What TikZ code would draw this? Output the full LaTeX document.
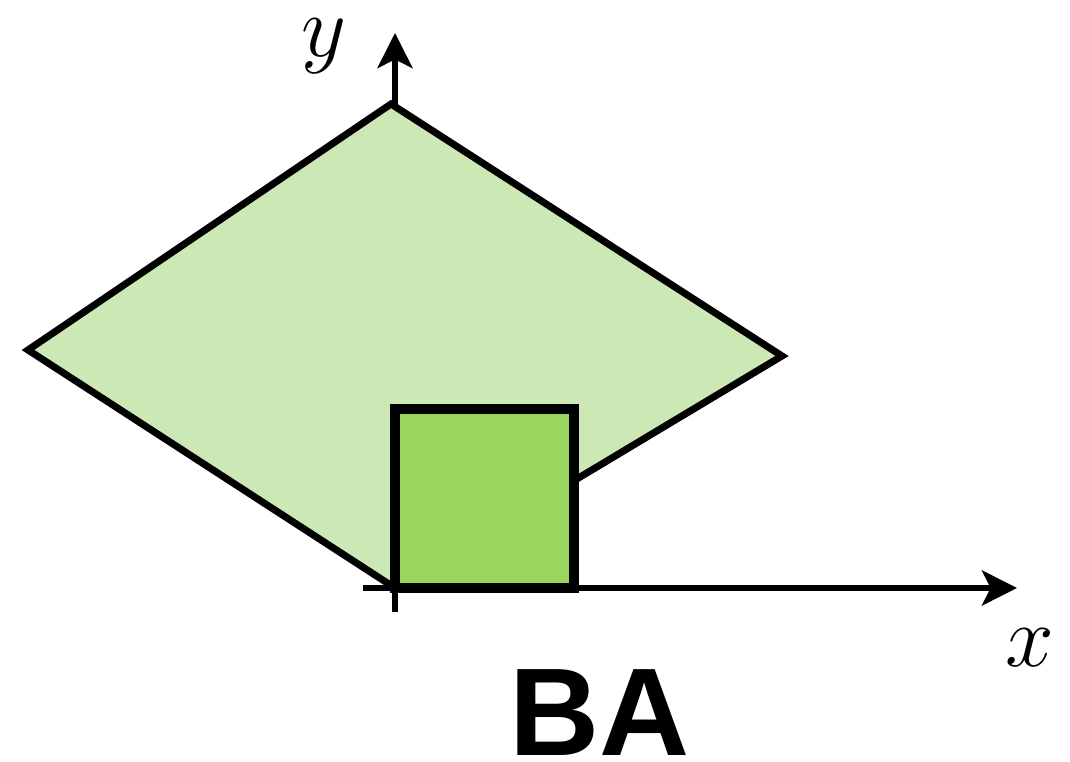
\documentclass[tikz,border=0pt]{standalone}
\usepackage{fontspec}
\newfontfamily\labelfont{Liberation Sans}
\usetikzlibrary{arrows.meta}
\definecolor{lightgreen}{RGB}{204,232,181}
\definecolor{darkgreen}{RGB}{154,214,95}
\begin{document}
\begin{tikzpicture}[x=0.01cm,y=-0.01cm,>={Stealth[length=10pt,width=10pt,inset=2.5pt]},every node/.style={inner sep=0pt}]
			\useasboundingbox (0,0) rectangle (1070,762);
			%Truc toa do
			\coordinate (O) at (395,588);
			\coordinate (xs) at (363,588);
			\coordinate (xe) at (1017,588);
			\coordinate (ys) at (395,612);
			\coordinate (ye) at (395,33);
			\draw [->,line width=1.45pt] (xs)--(xe);
			\draw [->,line width=1.45pt] (ys)--(ye);
			\draw (1030,648) node{\fontsize{26}{30}\selectfont$x$};
			\draw (324,46) node{\fontsize{26}{30}\selectfont$y$};
			%Hinh thoi
			\coordinate (L) at (28,350);
			\coordinate (T) at (391,104);
			\coordinate (R) at (782,356);
			\draw [fill=lightgreen,line width=2pt] (O)--(L)--(T)--(R)--cycle;
			%Hinh vuong
			\draw [fill=darkgreen,line width=2.9pt] (O) rectangle (574,409);
			%Nhan
			\draw (600,713) node{\labelfont\bfseries\fontsize{35.5}{40}\selectfont BA};
		\end{tikzpicture}
\end{document}
